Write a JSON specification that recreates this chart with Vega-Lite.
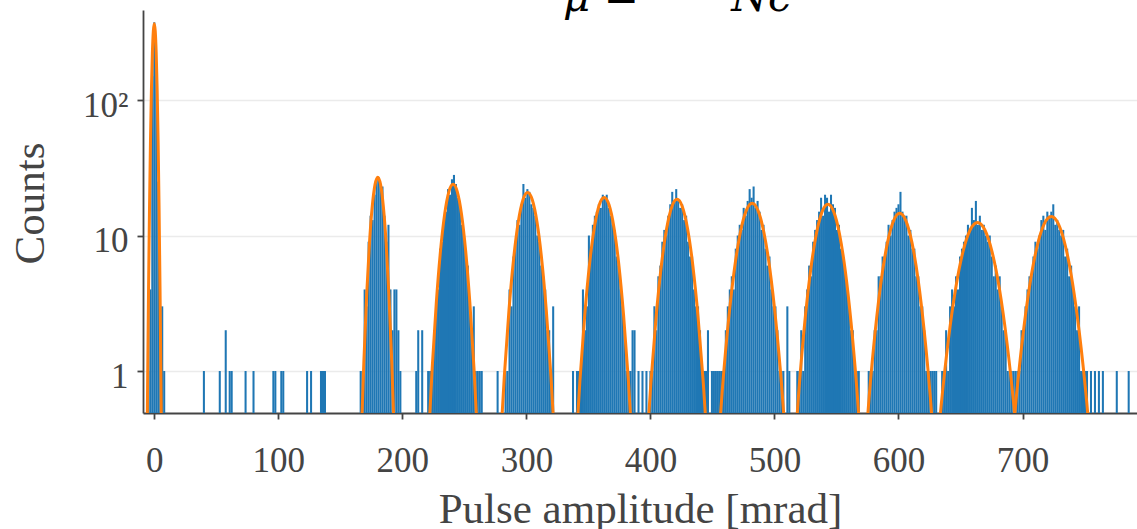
{
  "$schema": "https://vega.github.io/schema/vega-lite/v6.json",
  "width": 994,
  "height": 403,
  "autosize": {"type": "none"},
  "padding": {"left": 143, "top": 10, "right": 0, "bottom": 116},
  "background": "white",
  "title": {
    "text": "μ =\u2003\u2003\u2009Nc",
    "anchor": "start",
    "frame": "group",
    "dx": 420,
    "offset": -43,
    "baseline": "alphabetic",
    "font": "DejaVu Serif",
    "fontStyle": "italic",
    "fontSize": 42,
    "fontWeight": "normal",
    "color": "black"
  },
  "config": {
    "view": {"stroke": null},
    "font": "Liberation Serif"
  },
  "datasets": {
    "h": [
      {"x": -4.8, "n": 1}, {"x": -3.2, "n": 4}, {"x": -1.6, "n": 150}, {"x": 0, "n": 375}, {"x": 1.6, "n": 180}, {"x": 3.2, "n": 25}, {"x": 4.8, "n": 3}, {"x": 6.4, "n": 3}, {"x": 8.0, "n": 1},
      {"x": 40, "n": 1}, {"x": 52.8, "n": 1}, {"x": 57.6, "n": 2}, {"x": 60.8, "n": 1}, {"x": 62.4, "n": 1}, {"x": 73.6, "n": 1}, {"x": 80, "n": 1}, {"x": 96, "n": 1}, {"x": 97.6, "n": 1}, {"x": 102.4, "n": 1}, {"x": 104, "n": 1}, {"x": 123.2, "n": 1}, {"x": 126.4, "n": 1}, {"x": 134.4, "n": 1}, {"x": 136, "n": 1}, {"x": 137.6, "n": 1},
      {"x": 166.4, "n": 1}, {"x": 168, "n": 1}, {"x": 169.6, "n": 4}, {"x": 171.2, "n": 3}, {"x": 172.8, "n": 9}, {"x": 174.4, "n": 14}, {"x": 176, "n": 13}, {"x": 177.6, "n": 20}, {"x": 179.2, "n": 26}, {"x": 180.8, "n": 27}, {"x": 182.4, "n": 24}, {"x": 184, "n": 23}, {"x": 185.6, "n": 14}, {"x": 187.2, "n": 9}, {"x": 188.8, "n": 12}, {"x": 190.4, "n": 4}, {"x": 192, "n": 2}, {"x": 193.6, "n": 4}, {"x": 195.2, "n": 4}, {"x": 196.8, "n": 2}, {"x": 198.4, "n": 1},
      {"x": 211.2, "n": 1}, {"x": 212.8, "n": 2}, {"x": 216, "n": 2}, {"x": 220.8, "n": 1},
      {"x": 222.4, "n": 1}, {"x": 224, "n": 1}, {"x": 225.6, "n": 2}, {"x": 227.2, "n": 3}, {"x": 228.8, "n": 4}, {"x": 230.4, "n": 8}, {"x": 232, "n": 9}, {"x": 233.6, "n": 14}, {"x": 235.2, "n": 15}, {"x": 236.8, "n": 22}, {"x": 238.4, "n": 20}, {"x": 240, "n": 26}, {"x": 241.6, "n": 28}, {"x": 243.2, "n": 24}, {"x": 244.8, "n": 19}, {"x": 246.4, "n": 18}, {"x": 248, "n": 12}, {"x": 249.6, "n": 11}, {"x": 251.2, "n": 7}, {"x": 252.8, "n": 6}, {"x": 254.4, "n": 3}, {"x": 256, "n": 2}, {"x": 257.6, "n": 3}, {"x": 259.2, "n": 1}, {"x": 260.8, "n": 1},
      {"x": 262.4, "n": 1}, {"x": 264, "n": 1}, {"x": 276.8, "n": 1},
      {"x": 283.2, "n": 1}, {"x": 284.8, "n": 1}, {"x": 286.4, "n": 4}, {"x": 288, "n": 3}, {"x": 289.6, "n": 7}, {"x": 291.2, "n": 9}, {"x": 292.8, "n": 13}, {"x": 294.4, "n": 12}, {"x": 296, "n": 17}, {"x": 297.6, "n": 24}, {"x": 299.2, "n": 19}, {"x": 300.8, "n": 22}, {"x": 302.4, "n": 21}, {"x": 304, "n": 17}, {"x": 305.6, "n": 16}, {"x": 307.2, "n": 14}, {"x": 308.8, "n": 10}, {"x": 310.4, "n": 9}, {"x": 312, "n": 6}, {"x": 313.6, "n": 5}, {"x": 315.2, "n": 4}, {"x": 316.8, "n": 2}, {"x": 318.4, "n": 2}, {"x": 320, "n": 1}, {"x": 321.6, "n": 3},
      {"x": 337.6, "n": 1},
      {"x": 340.8, "n": 1}, {"x": 342.4, "n": 1}, {"x": 344, "n": 1}, {"x": 345.6, "n": 4}, {"x": 347.2, "n": 2}, {"x": 348.8, "n": 3}, {"x": 350.4, "n": 10}, {"x": 352, "n": 8}, {"x": 353.6, "n": 12}, {"x": 355.2, "n": 14}, {"x": 356.8, "n": 15}, {"x": 358.4, "n": 17}, {"x": 360, "n": 16}, {"x": 361.6, "n": 20}, {"x": 363.2, "n": 19}, {"x": 364.8, "n": 20}, {"x": 366.4, "n": 16}, {"x": 368, "n": 14}, {"x": 369.6, "n": 12}, {"x": 371.2, "n": 11}, {"x": 372.8, "n": 7}, {"x": 374.4, "n": 6}, {"x": 376, "n": 4}, {"x": 377.6, "n": 3}, {"x": 379.2, "n": 2}, {"x": 380.8, "n": 1}, {"x": 382.4, "n": 1}, {"x": 384, "n": 1}, {"x": 385.6, "n": 2}, {"x": 387.2, "n": 2},
      {"x": 390.4, "n": 1}, {"x": 393.6, "n": 1}, {"x": 396.8, "n": 1},
      {"x": 400, "n": 1}, {"x": 401.6, "n": 1}, {"x": 403.2, "n": 3}, {"x": 404.8, "n": 2}, {"x": 406.4, "n": 5}, {"x": 408, "n": 6}, {"x": 409.6, "n": 9}, {"x": 411.2, "n": 11}, {"x": 412.8, "n": 10}, {"x": 414.4, "n": 14}, {"x": 416, "n": 17}, {"x": 417.6, "n": 21}, {"x": 419.2, "n": 18}, {"x": 420.8, "n": 22}, {"x": 422.4, "n": 18}, {"x": 424, "n": 16}, {"x": 425.6, "n": 17}, {"x": 427.2, "n": 13}, {"x": 428.8, "n": 14}, {"x": 430.4, "n": 9}, {"x": 432, "n": 7}, {"x": 433.6, "n": 7}, {"x": 435.2, "n": 4}, {"x": 436.8, "n": 3}, {"x": 438.4, "n": 3}, {"x": 440, "n": 2}, {"x": 441.6, "n": 1}, {"x": 443.2, "n": 1}, {"x": 444.8, "n": 1},
      {"x": 446.4, "n": 2}, {"x": 449.6, "n": 1}, {"x": 451.2, "n": 1}, {"x": 452.8, "n": 1}, {"x": 454.4, "n": 1},
      {"x": 456, "n": 1}, {"x": 457.6, "n": 1}, {"x": 459.2, "n": 1}, {"x": 460.8, "n": 2}, {"x": 462.4, "n": 3}, {"x": 464, "n": 4}, {"x": 465.6, "n": 5}, {"x": 467.2, "n": 4}, {"x": 468.8, "n": 8}, {"x": 470.4, "n": 10}, {"x": 472, "n": 12}, {"x": 473.6, "n": 11}, {"x": 475.2, "n": 16}, {"x": 476.8, "n": 14}, {"x": 478.4, "n": 18}, {"x": 480, "n": 22}, {"x": 481.6, "n": 19}, {"x": 483.2, "n": 23}, {"x": 484.8, "n": 16}, {"x": 486.4, "n": 18}, {"x": 488, "n": 15}, {"x": 489.6, "n": 11}, {"x": 491.2, "n": 12}, {"x": 492.8, "n": 8}, {"x": 494.4, "n": 6}, {"x": 496, "n": 7}, {"x": 497.6, "n": 4}, {"x": 499.2, "n": 3}, {"x": 500.8, "n": 3}, {"x": 502.4, "n": 2}, {"x": 504, "n": 1}, {"x": 505.6, "n": 1}, {"x": 507.2, "n": 1},
      {"x": 510.4, "n": 3}, {"x": 512, "n": 1},
      {"x": 518.4, "n": 1}, {"x": 520, "n": 1}, {"x": 521.6, "n": 2}, {"x": 523.2, "n": 1}, {"x": 524.8, "n": 3}, {"x": 526.4, "n": 4}, {"x": 528, "n": 6}, {"x": 529.6, "n": 5}, {"x": 531.2, "n": 9}, {"x": 532.8, "n": 11}, {"x": 534.4, "n": 13}, {"x": 536, "n": 15}, {"x": 537.6, "n": 19}, {"x": 539.2, "n": 14}, {"x": 540.8, "n": 20}, {"x": 542.4, "n": 19}, {"x": 544, "n": 15}, {"x": 545.6, "n": 20}, {"x": 547.2, "n": 17}, {"x": 548.8, "n": 16}, {"x": 550.4, "n": 11}, {"x": 552, "n": 12}, {"x": 553.6, "n": 8}, {"x": 555.2, "n": 7}, {"x": 556.8, "n": 6}, {"x": 558.4, "n": 4}, {"x": 560, "n": 3}, {"x": 561.6, "n": 2}, {"x": 563.2, "n": 2}, {"x": 564.8, "n": 1}, {"x": 566.4, "n": 1}, {"x": 568, "n": 1},
      {"x": 576, "n": 1}, {"x": 577.6, "n": 1}, {"x": 579.2, "n": 1}, {"x": 580.8, "n": 2}, {"x": 582.4, "n": 2}, {"x": 584, "n": 5}, {"x": 585.6, "n": 5}, {"x": 587.2, "n": 7}, {"x": 588.8, "n": 7}, {"x": 590.4, "n": 9}, {"x": 592, "n": 12}, {"x": 593.6, "n": 10}, {"x": 595.2, "n": 13}, {"x": 596.8, "n": 15}, {"x": 598.4, "n": 16}, {"x": 600, "n": 17}, {"x": 601.6, "n": 21}, {"x": 603.2, "n": 15}, {"x": 604.8, "n": 14}, {"x": 606.4, "n": 14}, {"x": 608, "n": 10}, {"x": 609.6, "n": 11}, {"x": 611.2, "n": 8}, {"x": 612.8, "n": 8}, {"x": 614.4, "n": 5}, {"x": 616, "n": 5}, {"x": 617.6, "n": 3}, {"x": 619.2, "n": 3}, {"x": 620.8, "n": 2}, {"x": 622.4, "n": 1}, {"x": 624, "n": 1}, {"x": 625.6, "n": 1}, {"x": 627.2, "n": 1},
      {"x": 628.8, "n": 1}, {"x": 630.4, "n": 1},
      {"x": 635.2, "n": 1}, {"x": 636.8, "n": 1}, {"x": 638.4, "n": 2}, {"x": 640, "n": 1}, {"x": 641.6, "n": 3}, {"x": 643.2, "n": 4}, {"x": 644.8, "n": 3}, {"x": 646.4, "n": 5}, {"x": 648, "n": 4}, {"x": 649.6, "n": 7}, {"x": 651.2, "n": 8}, {"x": 652.8, "n": 9}, {"x": 654.4, "n": 10}, {"x": 656, "n": 12}, {"x": 657.6, "n": 11}, {"x": 659.2, "n": 16}, {"x": 660.8, "n": 13}, {"x": 662.4, "n": 18}, {"x": 664, "n": 12}, {"x": 665.6, "n": 14}, {"x": 667.2, "n": 11}, {"x": 668.8, "n": 12}, {"x": 670.4, "n": 10}, {"x": 672, "n": 9}, {"x": 673.6, "n": 10}, {"x": 675.2, "n": 7}, {"x": 676.8, "n": 5}, {"x": 678.4, "n": 6}, {"x": 680, "n": 4}, {"x": 681.6, "n": 5}, {"x": 683.2, "n": 3}, {"x": 684.8, "n": 2}, {"x": 686.4, "n": 2}, {"x": 688, "n": 1}, {"x": 689.6, "n": 1}, {"x": 691.2, "n": 1}, {"x": 692.8, "n": 1},
      {"x": 694.4, "n": 1}, {"x": 696, "n": 1}, {"x": 697.6, "n": 1}, {"x": 699.2, "n": 2}, {"x": 700.8, "n": 2}, {"x": 702.4, "n": 3}, {"x": 704, "n": 4}, {"x": 705.6, "n": 5}, {"x": 707.2, "n": 5}, {"x": 708.8, "n": 7}, {"x": 710.4, "n": 9}, {"x": 712, "n": 8}, {"x": 713.6, "n": 10}, {"x": 715.2, "n": 13}, {"x": 716.8, "n": 14}, {"x": 718.4, "n": 11}, {"x": 720, "n": 15}, {"x": 721.6, "n": 14}, {"x": 723.2, "n": 15}, {"x": 724.8, "n": 17}, {"x": 726.4, "n": 12}, {"x": 728, "n": 13}, {"x": 729.6, "n": 11}, {"x": 731.2, "n": 10}, {"x": 732.8, "n": 11}, {"x": 734.4, "n": 7}, {"x": 736, "n": 8}, {"x": 737.6, "n": 5}, {"x": 739.2, "n": 6}, {"x": 740.8, "n": 4}, {"x": 742.4, "n": 3}, {"x": 744, "n": 2}, {"x": 745.6, "n": 3}, {"x": 747.2, "n": 1}, {"x": 748.8, "n": 1}, {"x": 750.4, "n": 1}, {"x": 752, "n": 1},
      {"x": 755.2, "n": 1}, {"x": 758.4, "n": 1}, {"x": 761.6, "n": 1}, {"x": 764.8, "n": 1}, {"x": 776, "n": 1}, {"x": 785.6, "n": 1}
    ],
    "f": [
      {"p": 0, "x": -6.16, "y": 0.123}, {"p": 0, "x": -5.39, "y": 0.80}, {"p": 0, "x": -4.62, "y": 4.07}, {"p": 0, "x": -3.85, "y": 16.08}, {"p": 0, "x": -3.08, "y": 49.5}, {"p": 0, "x": -2.31, "y": 118.8}, {"p": 0, "x": -1.54, "y": 222.0}, {"p": 0, "x": -0.77, "y": 323.0}, {"p": 0, "x": 0, "y": 366}, {"p": 0, "x": 0.77, "y": 323.0}, {"p": 0, "x": 1.54, "y": 222.0}, {"p": 0, "x": 2.31, "y": 118.8}, {"p": 0, "x": 3.08, "y": 49.5}, {"p": 0, "x": 3.85, "y": 16.08}, {"p": 0, "x": 4.62, "y": 4.07}, {"p": 0, "x": 5.39, "y": 0.80}, {"p": 0, "x": 6.16, "y": 0.123},
      {"p": 1, "x": 164.49, "y": 0.0588}, {"p": 1, "x": 166.73, "y": 0.299}, {"p": 1, "x": 168.98, "y": 1.182}, {"p": 1, "x": 171.22, "y": 3.64}, {"p": 1, "x": 173.47, "y": 8.734}, {"p": 1, "x": 175.71, "y": 16.31}, {"p": 1, "x": 177.96, "y": 23.74}, {"p": 1, "x": 180.2, "y": 26.9}, {"p": 1, "x": 182.45, "y": 23.74}, {"p": 1, "x": 184.69, "y": 16.31}, {"p": 1, "x": 186.94, "y": 8.734}, {"p": 1, "x": 189.18, "y": 3.64}, {"p": 1, "x": 191.43, "y": 1.182}, {"p": 1, "x": 193.67, "y": 0.299}, {"p": 1, "x": 195.92, "y": 0.0588},
      {"p": 2, "x": 217.31, "y": 0.0523}, {"p": 2, "x": 220.68, "y": 0.2655}, {"p": 2, "x": 224.05, "y": 1.05}, {"p": 2, "x": 227.42, "y": 3.234}, {"p": 2, "x": 230.79, "y": 7.76}, {"p": 2, "x": 234.16, "y": 14.5}, {"p": 2, "x": 237.53, "y": 21.09}, {"p": 2, "x": 240.9, "y": 23.9}, {"p": 2, "x": 244.27, "y": 21.09}, {"p": 2, "x": 247.64, "y": 14.5}, {"p": 2, "x": 251.01, "y": 7.76}, {"p": 2, "x": 254.38, "y": 3.234}, {"p": 2, "x": 257.75, "y": 1.05}, {"p": 2, "x": 261.12, "y": 0.2655}, {"p": 2, "x": 264.49, "y": 0.0523},
      {"p": 3, "x": 274.68, "y": 0.0455}, {"p": 3, "x": 278.44, "y": 0.2311}, {"p": 3, "x": 282.2, "y": 0.914}, {"p": 3, "x": 285.96, "y": 2.814}, {"p": 3, "x": 289.72, "y": 6.754}, {"p": 3, "x": 293.48, "y": 12.62}, {"p": 3, "x": 297.24, "y": 18.36}, {"p": 3, "x": 301.0, "y": 20.8}, {"p": 3, "x": 304.76, "y": 18.36}, {"p": 3, "x": 308.52, "y": 12.62}, {"p": 3, "x": 312.28, "y": 6.754}, {"p": 3, "x": 316.04, "y": 2.814}, {"p": 3, "x": 319.8, "y": 0.914}, {"p": 3, "x": 323.56, "y": 0.2311}, {"p": 3, "x": 327.32, "y": 0.0455},
      {"p": 4, "x": 335.3, "y": 0.0418}, {"p": 4, "x": 339.21, "y": 0.2122}, {"p": 4, "x": 343.13, "y": 0.8393}, {"p": 4, "x": 347.04, "y": 2.584}, {"p": 4, "x": 350.96, "y": 6.202}, {"p": 4, "x": 354.87, "y": 11.58}, {"p": 4, "x": 358.79, "y": 16.86}, {"p": 4, "x": 362.7, "y": 19.1}, {"p": 4, "x": 366.62, "y": 16.86}, {"p": 4, "x": 370.53, "y": 11.58}, {"p": 4, "x": 374.45, "y": 6.202}, {"p": 4, "x": 378.36, "y": 2.584}, {"p": 4, "x": 382.28, "y": 0.8393}, {"p": 4, "x": 386.19, "y": 0.2122}, {"p": 4, "x": 390.11, "y": 0.0418},
      {"p": 5, "x": 391.89, "y": 0.0405}, {"p": 5, "x": 396.12, "y": 0.2055}, {"p": 5, "x": 400.35, "y": 0.8129}, {"p": 5, "x": 404.58, "y": 2.503}, {"p": 5, "x": 408.81, "y": 6.007}, {"p": 5, "x": 413.04, "y": 11.22}, {"p": 5, "x": 417.27, "y": 16.33}, {"p": 5, "x": 421.5, "y": 18.5}, {"p": 5, "x": 425.73, "y": 16.33}, {"p": 5, "x": 429.96, "y": 11.22}, {"p": 5, "x": 434.19, "y": 6.007}, {"p": 5, "x": 438.42, "y": 2.503}, {"p": 5, "x": 442.65, "y": 0.8129}, {"p": 5, "x": 446.88, "y": 0.2055}, {"p": 5, "x": 451.11, "y": 0.0405},
      {"p": 6, "x": 448.58, "y": 0.0378}, {"p": 6, "x": 453.35, "y": 0.1922}, {"p": 6, "x": 458.13, "y": 0.7602}, {"p": 6, "x": 462.9, "y": 2.341}, {"p": 6, "x": 467.68, "y": 5.617}, {"p": 6, "x": 472.45, "y": 10.49}, {"p": 6, "x": 477.23, "y": 15.27}, {"p": 6, "x": 482.0, "y": 17.3}, {"p": 6, "x": 486.78, "y": 15.27}, {"p": 6, "x": 491.55, "y": 10.49}, {"p": 6, "x": 496.33, "y": 5.617}, {"p": 6, "x": 501.1, "y": 2.341}, {"p": 6, "x": 505.88, "y": 0.7602}, {"p": 6, "x": 510.65, "y": 0.1922}, {"p": 6, "x": 515.43, "y": 0.0378},
      {"p": 7, "x": 510.52, "y": 0.0372}, {"p": 7, "x": 515.17, "y": 0.1889}, {"p": 7, "x": 519.83, "y": 0.747}, {"p": 7, "x": 524.48, "y": 2.3}, {"p": 7, "x": 529.14, "y": 5.52}, {"p": 7, "x": 533.79, "y": 10.31}, {"p": 7, "x": 538.45, "y": 15.0}, {"p": 7, "x": 543.1, "y": 17.0}, {"p": 7, "x": 547.76, "y": 15.0}, {"p": 7, "x": 552.41, "y": 10.31}, {"p": 7, "x": 557.07, "y": 5.52}, {"p": 7, "x": 561.72, "y": 2.3}, {"p": 7, "x": 566.38, "y": 0.747}, {"p": 7, "x": 571.03, "y": 0.1889}, {"p": 7, "x": 575.69, "y": 0.0372},
      {"p": 8, "x": 566.46, "y": 0.0319}, {"p": 8, "x": 571.39, "y": 0.1622}, {"p": 8, "x": 576.33, "y": 0.6415}, {"p": 8, "x": 581.26, "y": 1.975}, {"p": 8, "x": 586.2, "y": 4.741}, {"p": 8, "x": 591.13, "y": 8.855}, {"p": 8, "x": 596.07, "y": 12.88}, {"p": 8, "x": 601.0, "y": 14.6}, {"p": 8, "x": 605.94, "y": 12.88}, {"p": 8, "x": 610.87, "y": 8.855}, {"p": 8, "x": 615.81, "y": 4.741}, {"p": 8, "x": 620.74, "y": 1.975}, {"p": 8, "x": 625.68, "y": 0.6415}, {"p": 8, "x": 630.61, "y": 0.1622}, {"p": 8, "x": 635.55, "y": 0.0319},
      {"p": 9, "x": 622.58, "y": 0.0273}, {"p": 9, "x": 628.45, "y": 0.1389}, {"p": 9, "x": 634.33, "y": 0.5493}, {"p": 9, "x": 640.2, "y": 1.691}, {"p": 9, "x": 646.08, "y": 4.059}, {"p": 9, "x": 651.95, "y": 7.581}, {"p": 9, "x": 657.83, "y": 11.03}, {"p": 9, "x": 663.7, "y": 12.5}, {"p": 9, "x": 669.58, "y": 11.03}, {"p": 9, "x": 675.45, "y": 7.581}, {"p": 9, "x": 681.33, "y": 4.059}, {"p": 9, "x": 687.2, "y": 1.691}, {"p": 9, "x": 693.08, "y": 0.5493}, {"p": 9, "x": 698.95, "y": 0.1389}, {"p": 9, "x": 704.83, "y": 0.0273},
      {"p": 10, "x": 683.37, "y": 0.0302}, {"p": 10, "x": 689.06, "y": 0.1533}, {"p": 10, "x": 694.75, "y": 0.6064}, {"p": 10, "x": 700.44, "y": 1.867}, {"p": 10, "x": 706.13, "y": 4.481}, {"p": 10, "x": 711.82, "y": 8.37}, {"p": 10, "x": 717.51, "y": 12.18}, {"p": 10, "x": 723.2, "y": 13.8}, {"p": 10, "x": 728.89, "y": 12.18}, {"p": 10, "x": 734.58, "y": 8.37}, {"p": 10, "x": 740.27, "y": 4.481}, {"p": 10, "x": 745.96, "y": 1.867}, {"p": 10, "x": 751.65, "y": 0.6064}, {"p": 10, "x": 757.34, "y": 0.1533}, {"p": 10, "x": 763.03, "y": 0.0302}
    ]
  },
  "layer": [
    {
      "data": {"name": "h"},
      "mark": {"type": "bar", "width": 2.05, "color": "#1f77b4", "orient": "vertical"},
      "encoding": {
        "x": {
          "field": "x", "type": "quantitative",
          "scale": {"domain": [-9.1, 792.3], "nice": false, "zero": false, "padding": 0},
          "axis": {
            "values": [0, 100, 200, 300, 400, 500, 600, 700],
            "grid": false,
            "domainColor": "#444", "domainWidth": 1.8,
            "tickColor": "#444", "tickSize": 6, "tickWidth": 1.8,
            "labelFont": "Liberation Serif", "labelFontSize": 35, "labelColor": "#444",
            "labelPadding": 24, "labelFlush": false, "labelOverlap": false,
            "title": "Pulse amplitude [mrad]",
            "titleFont": "Liberation Serif", "titleFontSize": 43, "titleFontWeight": "normal", "titleColor": "#444",
            "titleBaseline": "alphabetic", "titleY": 109
          }
        },
        "y": {
          "field": "n", "type": "quantitative", "stack": null,
          "scale": {"type": "log", "domain": [0.49, 461.6], "nice": false},
          "axis": {
            "values": [1, 10, 100],
            "grid": true, "gridColor": "#ebebeb", "gridWidth": 1.5,
            "domainColor": "#444", "domainWidth": 1.8,
            "tickColor": "#444", "tickSize": 6, "tickWidth": 1.8,
            "labelFont": "Liberation Serif", "labelFontSize": 35, "labelColor": "#444",
            "labelPadding": 9, "labelBaseline": "alphabetic", "labelOffset": 16,
            "labelExpr": "datum.value == 100 ? '10²' : datum.label",
            "title": "Counts",
            "titleFont": "Liberation Serif", "titleFontSize": 43, "titleFontWeight": "normal", "titleColor": "#444",
            "titleAngle": 270, "titleBaseline": "alphabetic", "titleX": -100, "titleY": 193
          }
        },
        "y2": {"datum": 0.49}
      }
    },
    {
      "data": {"name": "f"},
      "mark": {"type": "line", "color": "#ff7f0e", "strokeWidth": 3, "clip": true, "interpolate": "monotone"},
      "encoding": {
        "x": {"field": "x", "type": "quantitative"},
        "y": {"field": "y", "type": "quantitative"},
        "detail": {"field": "p", "type": "nominal"}
      }
    }
  ]
}
